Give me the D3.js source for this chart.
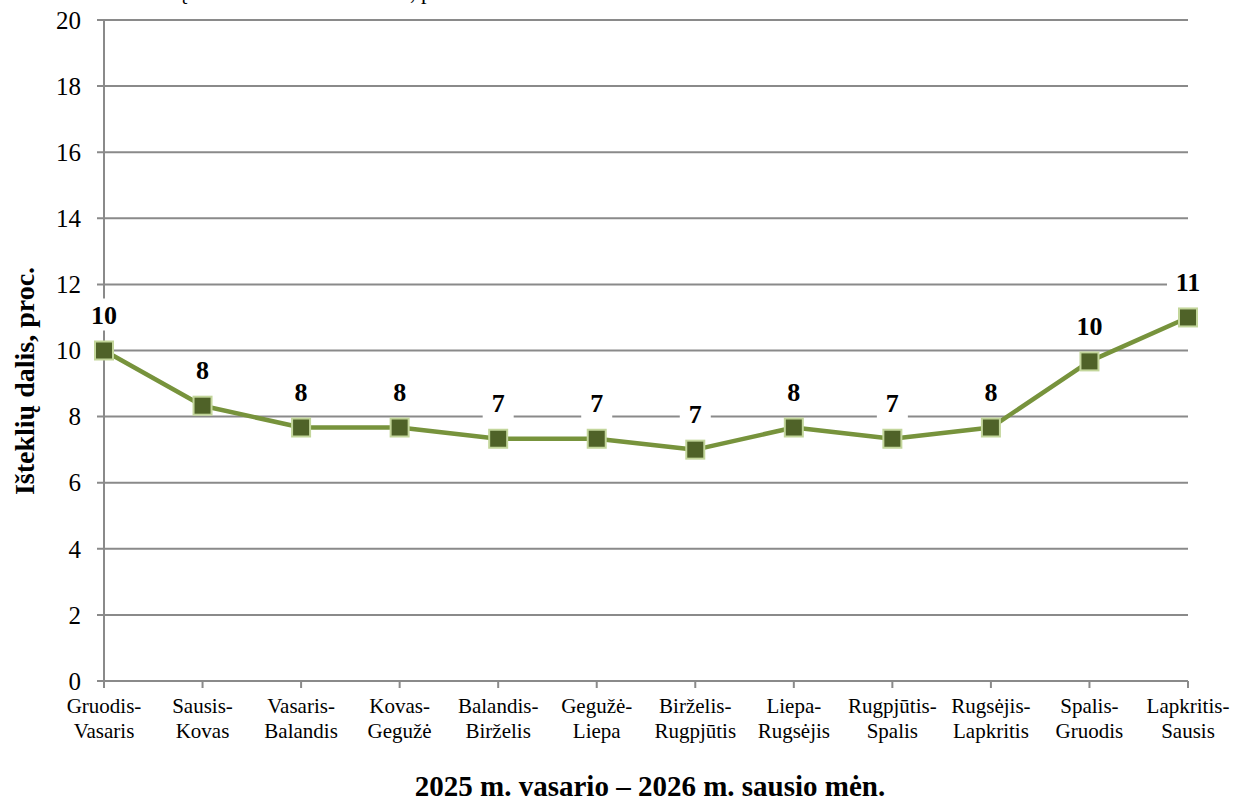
<!DOCTYPE html>
<html><head><meta charset="utf-8">
<script src="https://cdn.jsdelivr.net/npm/d3@7"></script>
<style>body{margin:0;background:#fff}svg{display:block}text{font-family:"Liberation Serif","Times New Roman",serif}</style>
</head><body>
<svg id="c" width="1240" height="801"></svg>
<script>
const categories = [["Gruodis-","Vasaris"],["Sausis-","Kovas"],["Vasaris-","Balandis"],["Kovas-","Gegužė"],["Balandis-","Birželis"],["Gegužė-","Liepa"],["Birželis-","Rugpjūtis"],["Liepa-","Rugsėjis"],["Rugpjūtis-","Spalis"],["Rugsėjis-","Lapkritis"],["Spalis-","Gruodis"],["Lapkritis-","Sausis"]];
const values = [10, 8.33, 7.67, 7.67, 7.33, 7.33, 7.0, 7.67, 7.33, 7.67, 9.67, 11];
const yTicks = [0,2,4,6,8,10,12,14,16,18,20];
const titleText = "Išteklių dalis bendrame biudžete, proc.";
const yTitle = "Išteklių dalis, proc.";
const xTitle = "2025 m. vasario – 2026 m. sausio mėn.";

const svg = d3.select("#c");
const L = 104, R = 1188, T = 20, B = 681;
const x = d3.scalePoint().domain(d3.range(categories.length)).range([L, R]).padding(0);
const y = d3.scaleLinear().domain([0, 20]).range([B, T]);

// cropped title at top (only descenders visible)
const tt = svg.append("text").attr("y", -1).attr("font-size", 24).text(titleText);
const tn = tt.node();
const i1 = titleText.indexOf("ų"), i2 = titleText.indexOf(",");
const span = tn.getSubStringLength(i1, i2 - i1);
const fs = 24 * 234 / span;
tt.attr("font-size", fs);
const pre = tn.getSubStringLength(0, i1);
tt.attr("x", 176 - pre);

// gridlines
svg.append("g").selectAll("line").data(yTicks).join("line")
  .attr("x1", L - 7).attr("x2", R).attr("y1", d => y(d)).attr("y2", d => y(d))
  .attr("stroke", "#8a8a8a").attr("stroke-width", 2);
// y axis line
svg.append("line").attr("x1", L).attr("x2", L).attr("y1", T).attr("y2", B + 7).attr("stroke", "#8a8a8a").attr("stroke-width", 2);
// x ticks
svg.append("g").selectAll("line").data(d3.range(categories.length)).join("line")
  .attr("x1", d => x(d)).attr("x2", d => x(d)).attr("y1", B).attr("y2", B + 7)
  .attr("stroke", "#8a8a8a").attr("stroke-width", 2);
// y tick labels
svg.append("g").selectAll("text").data(yTicks).join("text")
  .attr("x", 81).attr("y", d => y(d)).attr("dy", "0.35em").attr("text-anchor", "end")
  .attr("font-size", 25).attr("fill", "#000").text(d => d);
// x category labels
const xl = svg.append("g").selectAll("text").data(categories).join("text")
  .attr("text-anchor", "middle").attr("font-size", 21).attr("fill","#000");
xl.append("tspan").attr("x", (d,i) => x(i)).attr("y", 713).text(d => d[0]);
xl.append("tspan").attr("x", (d,i) => x(i)).attr("y", 738).text(d => d[1]);

// line
svg.append("path").datum(values)
  .attr("d", d3.line().x((d,i) => x(i)).y(d => y(d)))
  .attr("fill", "none").attr("stroke", "#77933C").attr("stroke-width", 4.5).attr("stroke-linejoin","round");
// markers
const ms = 18;
svg.append("g").selectAll("rect").data(values).join("rect")
  .attr("x", (d,i) => x(i) - ms/2).attr("y", d => y(d) - ms/2).attr("width", ms).attr("height", ms)
  .attr("fill", "#4F6228").attr("stroke", "#C3D69B").attr("stroke-width", 2);
// data labels
const dl = svg.append("g").selectAll("g").data(values).join("g")
  .attr("transform", (d,i) => `translate(${x(i)},${y(d) - 36})`);
dl.append("rect").attr("x", d => Math.round(d) >= 10 ? -21 : -15.5).attr("y", -16)
  .attr("width", d => Math.round(d) >= 10 ? 42 : 31).attr("height", 32).attr("fill", "#fff");
dl.append("text").attr("text-anchor", "middle").attr("dy", "0.35em")
  .attr("font-size", 26).attr("font-weight", "bold").text(d => Math.round(d));

// axis titles
svg.append("text").attr("x", 650).attr("y", 796).attr("text-anchor", "middle")
  .attr("font-size", 29).attr("font-weight", "bold").text(xTitle);
svg.append("text").attr("transform", "translate(34,381) rotate(-90)").attr("text-anchor", "middle")
  .attr("font-size", 28).attr("font-weight", "bold").text(yTitle);
</script>
</body></html>
